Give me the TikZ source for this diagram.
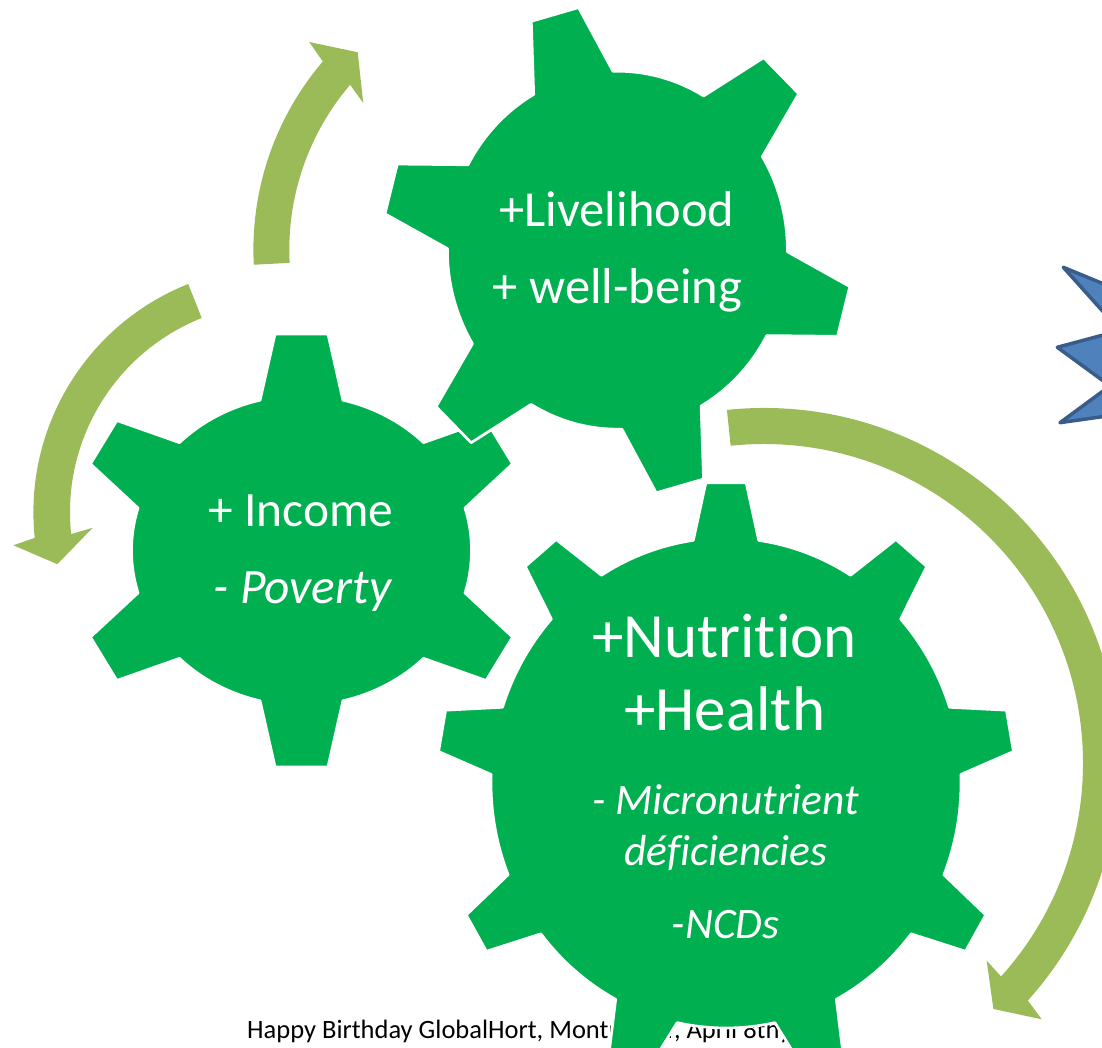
\documentclass[tikz,border=0pt]{standalone}
\usepackage{fontspec}
\setmainfont{Carlito}[Ligatures={NoCommon}]
\definecolor{gearg}{HTML}{00B050}
\definecolor{arrowg}{HTML}{9BBB59}
\definecolor{starblue}{HTML}{4F81BD}
\definecolor{starline}{HTML}{385D8A}
% #1 teeth, #2 first tooth angle, #3 rx, #4 ry, #5 tip Rx, #6 tip Ry, #7 base half-angle, #8 tip half-angle
\newcommand{\gearshape}[8]{%
  \filldraw[gearstyle] ({#2-#7}:#3pt and #4pt)
  \foreach \k [evaluate=\k as \a using {#2+(\k-1)*360/#1}] in {1,...,#1} {
    -- ({\a-#7}:#3pt and #4pt) -- ({\a-#8}:#5pt and #6pt)
    -- ({\a+#8}:#5pt and #6pt) -- ({\a+#7}:#3pt and #4pt)
    arc[start angle={\a+#7}, end angle={\a+360/#1-#7}, x radius=#3pt, y radius=#4pt]
  } -- cycle;
}
\begin{document}
\begin{tikzpicture}[x=1pt,y=1pt,
  gearstyle/.style={fill=gearg,draw=white,line width=2.7pt,line join=round},
  arrowstyle/.style={fill=arrowg},
  geartext/.style={text=white,inner sep=0pt,anchor=base},
  bigtext/.style={geartext,font=\fontsize{63}{72}\selectfont},
  midtext/.style={geartext,font=\fontsize{50.5}{60}\selectfont},
  smalltext/.style={geartext,font=\fontsize{43.5}{52}\selectfont\itshape},
]
\useasboundingbox (0,0) rectangle (1102,1048);
\clip (0,0) rectangle (1102,1048);

% curved arrows
\begin{scope}[shift={(543,798.4)}]
  \fill[arrowstyle] (183:289.6pt) arc[start angle=183,end angle=139.5,radius=289.6pt]
    -- (138.4:312.7pt) -- (133.2:270.7pt) -- (140.8:232pt) -- (139.5:253.7pt)
    arc[start angle=139.5,end angle=183,radius=253.7pt] -- cycle;
\end{scope}
\begin{scope}[shift={(279,535.8)}]
  \fill[arrowstyle] (111.7:245.6pt) arc[start angle=111.7,end angle=186,radius=245.6pt]
    -- (187.1:267.7pt) -- (193.2:227.7pt) -- (184.8:187pt) -- (186:209pt)
    arc[start angle=186,end angle=111.7,radius=209pt] -- cycle;
\end{scope}
\begin{scope}[shift={(764,285)}]
  \fill[arrowstyle] (96:355pt) arc[start angle=96,end angle=-42,radius=355pt]
    -- (-42.7:378pt) -- (-47:336.3pt) -- (-41.6:297.8pt) -- (-42:319pt)
    arc[start angle=-42,end angle=96,radius=319pt] -- cycle;
\end{scope}

% blue star, mostly off the page
\filldraw[fill=starblue,draw=starline,line width=3.5pt,line join=round]
  (1140,749) -- (1063.3,780.7) -- (1120,717.5) -- (1057.3,700.7)
  -- (1110,662.1) -- (1060,625.3) -- (1140,636.7) -- cycle;

% footer text (partly hidden by the gear)
\node[anchor=base west,inner sep=0pt,font=\fontsize{26.5}{31}\selectfont] (foot) at (247,9)
  {Happy Birthday GlobalHort, Montpellier, April 8thy};

% gears
\begin{scope}[shift={(726,265)}]
  \gearshape{9}{10}{235}{245}{289}{301}{8}{4}
\end{scope}
\begin{scope}[shift={(301.5,497.5)}]
  \gearshape{6}{30}{170}{155}{230}{218}{14.1}{6.6}
\end{scope}
\begin{scope}[shift={(617.4,797.8)}]
  \gearshape{6}{45.5}{170}{179}{235}{246}{14}{6}
\end{scope}

% gear texts
\node[midtext] (live) at (617,821.3) {+Livelihood};
\node[midtext] (well) at (617.5,744.7) {+ well-being};
\node[geartext,font=\fontsize{49.4}{58}\selectfont] (inc) at (300.8,521.3) {+ Income};
\node[geartext,font=\fontsize{49.4}{58}\selectfont\itshape] (pov) at (302.5,444.7) {- Poverty};
\node[bigtext] (nut) at (724.6,390.5) {+Nutrition};
\node[bigtext] (hea) at (724.7,317.8) {+Health};
\node[smalltext] (mic) at (725.7,233.6) {- Micronutrient};
\node[smalltext] (def) at (725.7,182) {déficiencies};
\node[smalltext] (ncd) at (725.6,109.2) {-NCDs};
\end{tikzpicture}
\end{document}
